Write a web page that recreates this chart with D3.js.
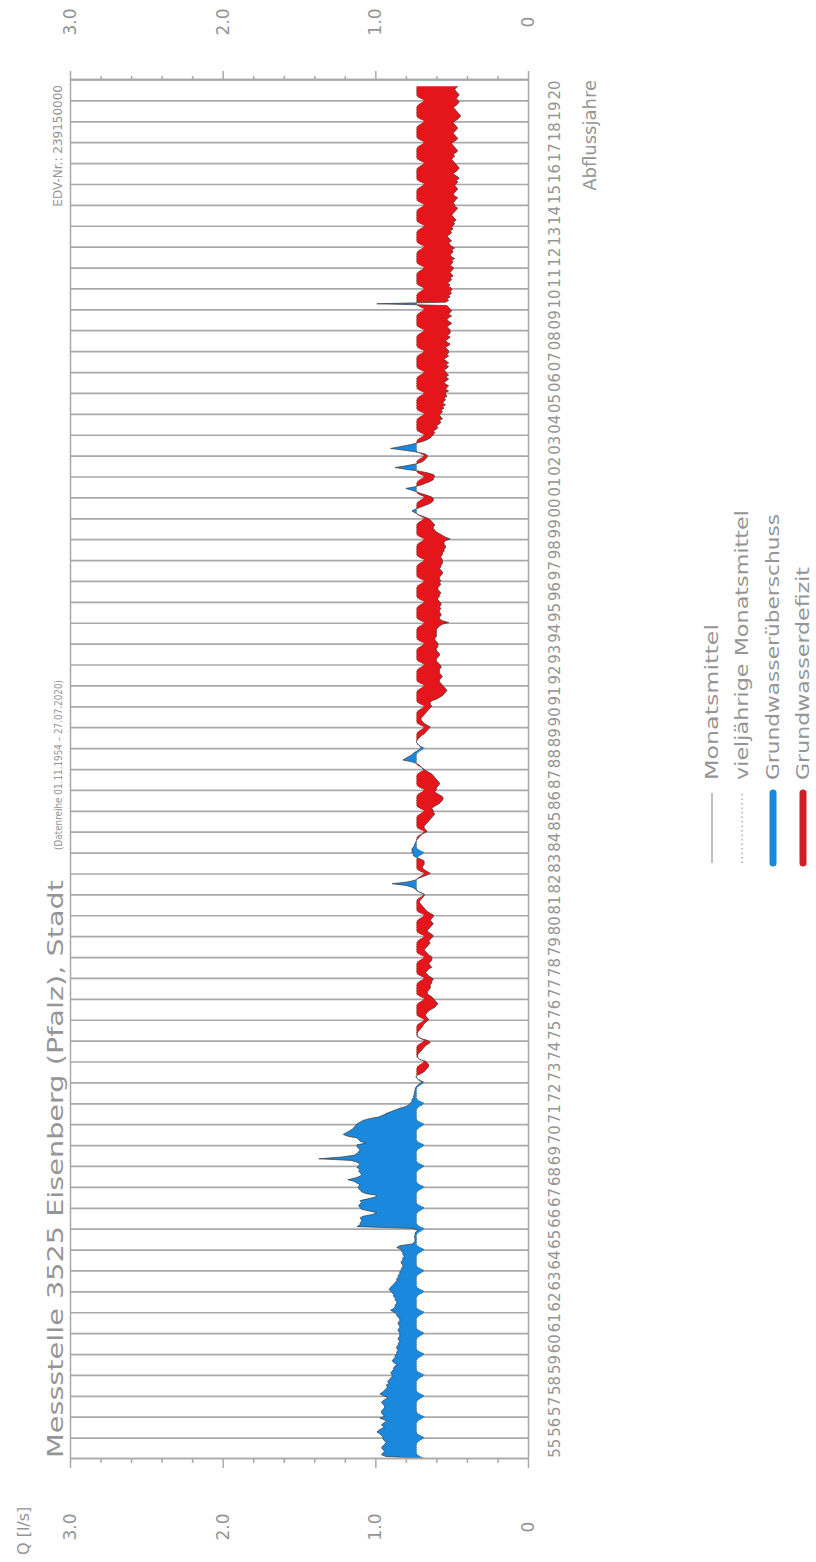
<!DOCTYPE html>
<html lang="de">
<head>
    <meta charset="UTF-8"/>
    <title>Messstelle 3525 Eisenberg (Pfalz), Stadt</title>
    <script src="https://d3js.org/d3.v7.min.js"></script>
    <style>
        body { margin: 0; background: #fff; }
        svg text { font-family: "DejaVu Sans", sans-serif; fill: #959595; }
    </style>
</head>
<body>
<script>
    var W = 816, H = 1562;

    // hydrological years (Nov - Oct), labels along the time axis
    var yearLabels = ["55","56","57","58","59","60","61","62","63","64","65","66","67","68","69",
        "70","71","72","73","74","75","76","77","78","79","80","81","82","83","84","85","86","87",
        "88","89","90","91","92","93","94","95","96","97","98","99","00","01","02","03","04","05",
        "06","07","08","09","10","11","12","13","14","15","16","17","18","19","20"];

    var valueTicks = [0, 1, 2, 3];
    var valueLabels = ["0", "1.0", "2.0", "3.0"];
    var minorTicks = [0.2, 0.4, 0.6, 0.8, 1.2, 1.4, 1.6, 1.8, 2.2, 2.4, 2.6, 2.8];

    // vieljaehrige Monatsmittel, Nov .. Oct  [l/s]
    var longTermMean = [0.68, 0.705, 0.725, 0.73, 0.73, 0.73, 0.73, 0.73, 0.73, 0.725, 0.71, 0.69];

    // Monatsmittel from Nov 1954 to Jul 2020, one row per hydrological year
    var monthlyMean = [
        0.71, 0.93, 0.96, 0.95, 0.94, 0.95, 0.96, 0.95, 0.94, 0.93, 0.94, 0.95,
        0.95, 0.96, 0.97, 0.99, 0.98, 0.96, 0.94, 0.96, 0.95, 0.93, 0.94, 0.97,
        0.94, 0.95, 0.96, 0.96, 0.95, 0.94, 0.94, 0.95, 0.96, 0.95, 0.93, 0.92,
        0.95, 0.97, 0.95, 0.94, 0.93, 0.92, 0.93, 0.91, 0.92, 0.91, 0.90, 0.89,
        0.89, 0.90, 0.89, 0.88, 0.88, 0.87, 0.86, 0.88, 0.89, 0.88, 0.87, 0.87,
        0.86, 0.86, 0.85, 0.86, 0.86, 0.85, 0.85, 0.84, 0.85, 0.85, 0.84, 0.84,
        0.84, 0.85, 0.85, 0.84, 0.84, 0.85, 0.85, 0.84, 0.84, 0.85, 0.86, 0.86,
        0.88, 0.90, 0.88, 0.87, 0.87, 0.86, 0.86, 0.87, 0.87, 0.88, 0.88, 0.89,
        0.90, 0.91, 0.90, 0.89, 0.88, 0.87, 0.86, 0.86, 0.85, 0.85, 0.84, 0.84,
        0.83, 0.83, 0.82, 0.82, 0.83, 0.83, 0.82, 0.82, 0.81, 0.82, 0.82, 0.83,
        0.83, 0.86, 0.84, 0.76, 0.745, 0.74, 0.74, 0.745, 0.74, 0.74, 0.735, 0.72,
        0.76, 1.12, 1.10, 1.10, 1.09, 1.09, 1.10, 1.08, 1.02, 0.99, 1.04, 1.09,
        1.10, 1.11, 1.10, 1.09, 1.10, 1.05, 1.00, 0.99, 1.06, 1.09, 1.10, 1.11,
        1.11, 1.10, 1.12, 1.14, 1.18, 1.13, 1.10, 1.09, 1.10, 1.11, 1.10, 1.12,
        1.11, 1.10, 1.12, 1.16, 1.37, 1.22, 1.14, 1.12, 1.11, 1.10, 1.11, 1.12,
        1.12, 1.06, 1.10, 1.11, 1.12, 1.18, 1.21, 1.19, 1.17, 1.15, 1.14, 1.13,
        1.12, 1.10, 1.08, 1.04, 0.98, 0.95, 0.93, 0.90, 0.87, 0.84, 0.80, 0.78,
        0.77, 0.76, 0.76, 0.75, 0.75, 0.745, 0.745, 0.74, 0.74, 0.735, 0.725, 0.71,
        0.69, 0.715, 0.725, 0.735, 0.725, 0.70, 0.68, 0.67, 0.66, 0.65, 0.65, 0.66,
        0.67, 0.71, 0.72, 0.725, 0.72, 0.71, 0.70, 0.69, 0.68, 0.67, 0.65, 0.64,
        0.66, 0.70, 0.72, 0.725, 0.725, 0.72, 0.71, 0.70, 0.69, 0.685, 0.675, 0.66,
        0.65, 0.66, 0.67, 0.67, 0.66, 0.65, 0.63, 0.61, 0.60, 0.59, 0.60, 0.61,
        0.62, 0.63, 0.65, 0.66, 0.66, 0.65, 0.64, 0.64, 0.64, 0.63, 0.63, 0.62,
        0.63, 0.65, 0.66, 0.67, 0.66, 0.65, 0.63, 0.64, 0.65, 0.64, 0.63, 0.63,
        0.63, 0.65, 0.66, 0.67, 0.68, 0.67, 0.66, 0.65, 0.64, 0.65, 0.64, 0.63,
        0.62, 0.63, 0.65, 0.66, 0.65, 0.64, 0.63, 0.62, 0.63, 0.64, 0.63, 0.62,
        0.62, 0.64, 0.66, 0.67, 0.68, 0.69, 0.70, 0.71, 0.71, 0.70, 0.69, 0.68,
        0.68, 0.71, 0.73, 0.74, 0.76, 0.80, 0.89, 0.79, 0.74, 0.72, 0.69, 0.66,
        0.64, 0.66, 0.68, 0.69, 0.69, 0.68, 0.68, 0.68, 0.70, 0.73, 0.75, 0.75,
        0.76, 0.76, 0.76, 0.75, 0.745, 0.74, 0.735, 0.73, 0.72, 0.71, 0.70, 0.68,
        0.66, 0.67, 0.68, 0.68, 0.67, 0.66, 0.65, 0.64, 0.63, 0.62, 0.61, 0.62,
        0.62, 0.63, 0.62, 0.60, 0.58, 0.57, 0.56, 0.555, 0.56, 0.58, 0.60, 0.61,
        0.60, 0.60, 0.59, 0.58, 0.58, 0.59, 0.60, 0.61, 0.62, 0.63, 0.65, 0.67,
        0.69, 0.70, 0.71, 0.73, 0.76, 0.82, 0.80, 0.78, 0.76, 0.75, 0.73, 0.71,
        0.70, 0.71, 0.72, 0.73, 0.73, 0.72, 0.71, 0.70, 0.68, 0.67, 0.66, 0.65,
        0.64, 0.66, 0.68, 0.69, 0.70, 0.70, 0.69, 0.68, 0.67, 0.66, 0.65, 0.64,
        0.63, 0.64, 0.64, 0.63, 0.60, 0.58, 0.56, 0.55, 0.54, 0.53, 0.54, 0.55,
        0.56, 0.57, 0.58, 0.58, 0.57, 0.56, 0.57, 0.58, 0.58, 0.58, 0.57, 0.57,
        0.58, 0.59, 0.60, 0.60, 0.59, 0.58, 0.58, 0.59, 0.60, 0.60, 0.59, 0.59,
        0.59, 0.60, 0.61, 0.61, 0.60, 0.60, 0.60, 0.60, 0.60, 0.59, 0.58, 0.56,
        0.52, 0.56, 0.58, 0.58, 0.57, 0.57, 0.58, 0.58, 0.57, 0.58, 0.57, 0.57,
        0.58, 0.59, 0.59, 0.58, 0.58, 0.57, 0.58, 0.59, 0.59, 0.58, 0.57, 0.58,
        0.57, 0.58, 0.58, 0.57, 0.56, 0.56, 0.57, 0.58, 0.57, 0.57, 0.56, 0.56,
        0.56, 0.57, 0.57, 0.56, 0.56, 0.55, 0.55, 0.54, 0.54, 0.55, 0.55, 0.54,
        0.51, 0.54, 0.56, 0.58, 0.60, 0.61, 0.62, 0.62, 0.61, 0.62, 0.63, 0.64,
        0.66, 0.69, 0.72, 0.74, 0.76, 0.74, 0.71, 0.68, 0.65, 0.63, 0.62, 0.62,
        0.63, 0.66, 0.70, 0.73, 0.76, 0.80, 0.74, 0.70, 0.67, 0.64, 0.62, 0.62,
        0.61, 0.62, 0.66, 0.72, 0.80, 0.87, 0.80, 0.74, 0.70, 0.68, 0.67, 0.66,
        0.66, 0.68, 0.74, 0.82, 0.90, 0.84, 0.78, 0.73, 0.69, 0.66, 0.64, 0.63,
        0.62, 0.61, 0.62, 0.60, 0.59, 0.60, 0.58, 0.57, 0.58, 0.56, 0.57, 0.58,
        0.57, 0.56, 0.57, 0.55, 0.56, 0.54, 0.56, 0.55, 0.54, 0.55, 0.53, 0.54,
        0.54, 0.52, 0.54, 0.53, 0.52, 0.54, 0.55, 0.53, 0.52, 0.54, 0.52, 0.53,
        0.54, 0.55, 0.53, 0.52, 0.54, 0.52, 0.53, 0.55, 0.54, 0.52, 0.53, 0.52,
        0.52, 0.53, 0.54, 0.52, 0.51, 0.53, 0.54, 0.52, 0.51, 0.53, 0.51, 0.51,
        0.51, 0.52, 0.53, 0.51, 0.50, 0.52, 0.53, 0.52, 0.50, 0.52, 0.51, 0.50,
        0.51, 0.52, 0.53, 0.99, 0.54, 0.52, 0.53, 0.51, 0.52, 0.50, 0.51, 0.50,
        0.50, 0.52, 0.51, 0.53, 0.51, 0.50, 0.51, 0.49, 0.50, 0.51, 0.50, 0.49,
        0.49, 0.51, 0.50, 0.49, 0.50, 0.48, 0.50, 0.51, 0.50, 0.49, 0.50, 0.48,
        0.50, 0.51, 0.52, 0.50, 0.51, 0.52, 0.53, 0.51, 0.50, 0.51, 0.49, 0.50,
        0.49, 0.48, 0.49, 0.47, 0.48, 0.49, 0.50, 0.49, 0.48, 0.47, 0.46, 0.48,
        0.48, 0.49, 0.48, 0.47, 0.46, 0.48, 0.49, 0.48, 0.47, 0.46, 0.47, 0.48,
        0.47, 0.46, 0.47, 0.45, 0.46, 0.48, 0.49, 0.47, 0.46, 0.45, 0.46, 0.47,
        0.48, 0.49, 0.50, 0.49, 0.48, 0.49, 0.47, 0.46, 0.47, 0.48, 0.49, 0.50,
        0.49, 0.47, 0.46, 0.47, 0.48, 0.49, 0.48, 0.47, 0.46, 0.47, 0.48, 0.49,
        0.48, 0.46, 0.45, 0.44, 0.45, 0.46, 0.47, 0.48, 0.49, 0.47, 0.46, 0.45,
        0.46, 0.47, 0.46, 0.45, 0.46, 0.47, 0.48, 0.47, 0.46
    ];

    var legendLabels = ["Monatsmittel", "vieljährige Monatsmittel", "Grundwasserüberschuss", "Grundwasserdefizit"];

    var blue = "#1a88dc", red = "#e4161c", grey = "#a9a9a9";

    var svg = d3.select("body").append("svg")
        .attr("width", W)
        .attr("height", H);

    // the whole chart is drawn upright and turned a quarter to the left
    var g = svg.append("g")
        .attr("transform", "translate(0," + H + ") rotate(-90)");

    var x0 = 103, x1 = 1482;
    var xScale = d3.scaleTime()
        .domain([new Date(1954, 10, 1), new Date(1954 + yearLabels.length, 10, 1)])
        .range([x0, x1]);

    var yScale = d3.scaleLinear()
        .domain([0, 3])
        .range([528, 70]);

    // year grid lines (1 November)
    var yearStarts = yearLabels.map(function(d, i) { return new Date(1955 + i, 10, 1); });
    g.append("g").selectAll("line")
        .data(yearStarts)
        .enter()
        .append("line")
        .attr("x1", function(d) { return xScale(d); })
        .attr("x2", function(d) { return xScale(d); })
        .attr("y1", yScale(3))
        .attr("y2", yScale(0))
        .attr("stroke", grey)
        .attr("stroke-width", 1.7);

    // points with inserted crossings so blue and red meet cleanly
    var pts = [];
    monthlyMean.forEach(function(v, i) {
        var lt = longTermMean[i % 12];
        var t = xScale(new Date(1954, 10 + i, 15));
        pts.push({ t: t, m: v, lt: lt });
        if (i < monthlyMean.length - 1) {
            var v2 = monthlyMean[i + 1], lt2 = longTermMean[(i + 1) % 12];
            var d1 = v - lt, d2 = v2 - lt2;
            if (d1 * d2 < 0) {
                var f = d1 / (d1 - d2);
                var t2 = xScale(new Date(1954, 11 + i, 15));
                var c = v + f * (v2 - v);
                pts.push({ t: t + f * (t2 - t), m: c, lt: c });
            }
        }
    });

    var blueArea = d3.area()
        .x(function(d) { return d.t; })
        .y0(function(d) { return yScale(d.lt); })
        .y1(function(d) { return yScale(Math.max(d.m, d.lt)); });

    var redArea = d3.area()
        .x(function(d) { return d.t; })
        .y0(function(d) { return yScale(d.lt); })
        .y1(function(d) { return yScale(Math.min(d.m, d.lt)); });

    g.append("path").datum(pts).attr("d", blueArea).attr("fill", blue);
    g.append("path").datum(pts).attr("d", redArea).attr("fill", red);

    g.append("path").datum(pts)
        .attr("d", d3.line().x(function(d) { return d.t; }).y(function(d) { return yScale(d.lt); }))
        .attr("fill", "none")
        .attr("stroke", "#555")
        .attr("stroke-width", 0.7)
        .attr("stroke-dasharray", "1,1.5");

    g.append("path").datum(pts)
        .attr("d", d3.line().x(function(d) { return d.t; }).y(function(d) { return yScale(d.m); }))
        .attr("fill", "none")
        .attr("stroke", "#3a3a3a")
        .attr("stroke-width", 0.7);

    // value axes at both ends
    function styleAxis(sel) {
        sel.selectAll("path, line").attr("stroke", grey).attr("stroke-width", 1.5);
        sel.selectAll("text").remove();
    }
    g.append("g").attr("transform", "translate(" + x0 + ",0)")
        .call(d3.axisLeft(yScale).tickValues(minorTicks).tickSize(4).tickSizeOuter(0).tickFormat(""))
        .call(styleAxis);
    g.append("g").attr("transform", "translate(" + x0 + ",0)")
        .call(d3.axisLeft(yScale).tickValues(valueTicks).tickSize(9).tickSizeOuter(0).tickFormat(""))
        .call(styleAxis);
    g.append("g").attr("transform", "translate(" + x1 + ",0)")
        .call(d3.axisRight(yScale).tickValues(minorTicks).tickSize(4).tickSizeOuter(0).tickFormat(""))
        .call(styleAxis);
    g.append("g").attr("transform", "translate(" + x1 + ",0)")
        .call(d3.axisRight(yScale).tickValues(valueTicks).tickSize(9).tickSizeOuter(0).tickFormat(""))
        .call(styleAxis);

    // value labels, left and right of the plot (bottom and top of the picture)
    [35, 1540].forEach(function(px) {
        g.append("g").selectAll("text")
            .data(valueTicks)
            .enter()
            .append("text")
            .attr("x", px)
            .attr("y", function(d) { return yScale(d); })
            .attr("dy", "0.35em")
            .attr("text-anchor", "middle")
            .attr("font-size", 17)
            .text(function(d, i) { return valueLabels[i]; });
    });

    // top line at 3.0
    g.append("g").attr("transform", "translate(0," + yScale(3) + ")")
        .call(d3.axisTop(xScale).tickValues([]).tickSizeOuter(0))
        .call(styleAxis);

    // time axis with year labels in the middle of every hydrological year
    var midYears = yearLabels.map(function(d, i) { return new Date(1955 + i, 4, 1); });
    var xAxis = g.append("g")
        .attr("transform", "translate(0," + yScale(0) + ")")
        .call(d3.axisBottom(xScale).tickValues(midYears).tickSize(0).tickSizeOuter(0).tickPadding(21)
            .tickFormat(function(d, i) { return yearLabels[i]; }));
    xAxis.select(".domain").attr("stroke", grey).attr("stroke-width", 1.5);
    xAxis.selectAll("text")
        .attr("font-size", 15)
        .attr("font-family", "DejaVu Sans")
        .style("fill", "#959595");

    // titles
    g.append("text")
        .attr("x", 104).attr("y", 63)
        .attr("font-size", 21)
        .attr("textLength", 578)
        .attr("lengthAdjust", "spacingAndGlyphs")
        .text("Messstelle 3525 Eisenberg (Pfalz), Stadt");
    g.append("text")
        .attr("x", 712).attr("y", 62)
        .attr("font-size", 10)
        .attr("textLength", 170)
        .attr("lengthAdjust", "spacingAndGlyphs")
        .text("(Datenreihe 01.11.1954  –  27.07.2020)");
    g.append("text")
        .attr("x", 1477).attr("y", 62)
        .attr("font-size", 12)
        .attr("text-anchor", "end")
        .text("EDV-Nr.: 239150000");
    g.append("text")
        .attr("x", 7).attr("y", 29)
        .attr("font-size", 16)
        .text("Q [l/s]");
    g.append("text")
        .attr("x", 1482).attr("y", 596)
        .attr("font-size", 18)
        .attr("text-anchor", "end")
        .text("Abflussjahre");

    // legend
    var legendRows = [712, 742, 773, 803];
    var legendLengths = [156, 270, 266, 213];
    var legend = g.append("g");
    legendLabels.forEach(function(label, i) {
        var line = legend.append("line")
            .attr("x1", 699).attr("x2", 769)
            .attr("y1", legendRows[i]).attr("y2", legendRows[i]);
        if (i === 0) line.attr("stroke", "#aaa").attr("stroke-width", 1.5);
        if (i === 1) line.attr("stroke", "#999").attr("stroke-width", 1.2).attr("stroke-dasharray", "1.5,3");
        if (i === 2) line.attr("stroke", blue).attr("stroke-width", 7).attr("stroke-linecap", "round");
        if (i === 3) line.attr("stroke", "#d21f26").attr("stroke-width", 7).attr("stroke-linecap", "round");
        legend.append("text")
            .attr("x", 782).attr("y", legendRows[i])
            .attr("dy", "0.35em")
            .attr("font-size", 17)
            .attr("textLength", legendLengths[i])
            .attr("lengthAdjust", "spacingAndGlyphs")
            .text(label);
    });
</script>
</body>
</html>
